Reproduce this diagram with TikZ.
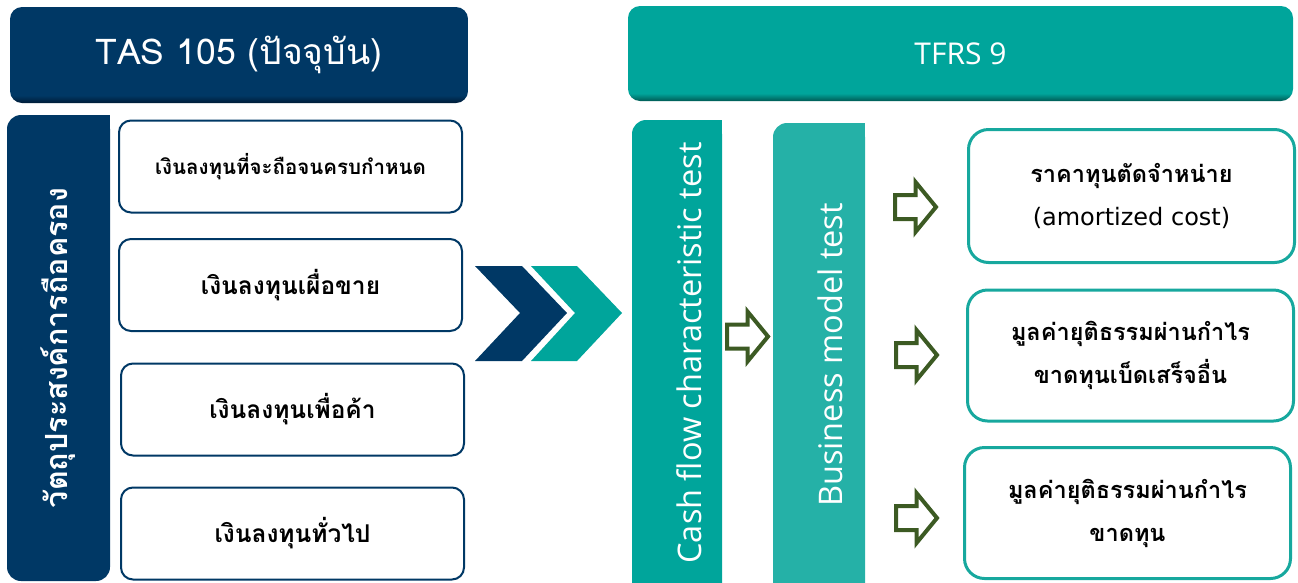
\documentclass[tikz,border=0pt]{standalone}
\usepackage{fontspec}
\newfontfamily\thai[Script=Thai]{Loma}
\newfontfamily\lat{Open Sans}
\newfontfamily\dv{DejaVu Sans}
\definecolor{navy}{RGB}{0,56,101}
\definecolor{navyD}{RGB}{0,28,55}
\definecolor{teal}{RGB}{0,165,155}
\definecolor{tealD}{RGB}{0,90,84}
\definecolor{tealL}{RGB}{37,177,167}
\definecolor{tealB}{RGB}{23,168,158}
\definecolor{arrowgreen}{RGB}{60,90,35}
\pgfdeclareverticalshading{navybevel}{100bp}{color(0bp)=(navyD); color(25bp)=(navyD); color(29bp)=(navy); color(100bp)=(navy)}
\pgfdeclareverticalshading{tealbevel}{100bp}{color(0bp)=(tealD); color(25bp)=(tealD); color(29bp)=(teal); color(100bp)=(teal)}
\begin{document}
\begin{tikzpicture}[x=1pt,y=-1pt,
  hdr/.style={rounded corners=12, inner sep=0, shade, text=white},
  lbox/.style={draw=navy, line width=2, fill=white, rounded corners=12, minimum width=343, minimum height=92, inner sep=0, font=\thai\bfseries\fontsize{24.5}{30}\selectfont},
  rbox/.style={draw=tealB, line width=3, fill=white, rounded corners=20, minimum width=326, minimum height=131, inner sep=0, align=center, font=\thai\bfseries\fontsize{23.5}{43}\selectfont},
  bar/.style={rounded corners=14, inner sep=0},
  vtext/.style={rotate=90, text=white, inner sep=0},
  garrow/.pic={\draw[arrowgreen, line width=4, fill=white, line join=miter] (-20.5,-12) -- (0,-12) -- (0,-25) -- (20.5,0) -- (0,25) -- (0,12) -- (-20.5,12) -- cycle;}
]
\useasboundingbox (0,0) rectangle (1298,582);
% headers
\node[hdr, shading=navybevel, minimum width=458, minimum height=96, font=\thai\fontsize{35.5}{40}\selectfont] (tas) at (239,55) {TAS 105 (ปัจจุบัน)};
\node[hdr, shading=tealbevel, minimum width=665, minimum height=95, font=\lat\fontsize{30}{36}\selectfont] (tfrs) at (960.5,53.5) {TFRS 9};
% left purpose bar
\node[bar, fill=navy, minimum width=103, minimum height=466] (purpose) at (58.5,348) {};
\fill[navy] (90,115) rectangle (110,140);
\node[vtext, font=\thai\bfseries\fontsize{30.5}{34}\selectfont] (purposetxt) at (purpose.center) {วัตถุประสงค์การถือครอง};
% left boxes
\node[lbox, font=\thai\bfseries\fontsize{20.5}{24}\selectfont] (b1) at (290.5,166.5) {เงินลงทุนที่จะถือจนครบกำหนด};
\node[lbox] (b2) at (290.5,285) {เงินลงทุนเผื่อขาย};
\node[lbox] (b3) at (292.5,409.5) {เงินลงทุนเพื่อค้า};
\node[lbox] (b4) at (292.5,533.5) {เงินลงทุนทั่วไป};
% chevrons
\fill[navy] (475,266) -- (522,266) -- (567,313) -- (522,361) -- (475,361) -- (520,313) -- cycle;
\fill[teal] (531,266) -- (577,266) -- (622,313) -- (577,361) -- (531,361) -- (575,313) -- cycle;
% test bars
\node[bar, fill=teal, minimum width=90, minimum height=480] (cash) at (677,360) {};
\fill[teal] (700,120) rectangle (722,145);
\node[vtext, font=\lat\fontsize{32.5}{36}\selectfont] (cashtxt) at (689,353) {Cash flow characteristic test};
\node[bar, fill=tealL, minimum width=92, minimum height=480] (biz) at (819,363) {};
\fill[tealL] (840,123) rectangle (865,148);
\node[vtext, font=\lat\fontsize{32.5}{36}\selectfont] (biztxt) at (830,355) {Business model test};
% green arrows
\pic at (747.5,336.5) {garrow};
\pic at (915.5,207) {garrow};
\pic at (916.5,355) {garrow};
\pic at (916.5,518) {garrow};
% right boxes
\node[rbox, minimum height=133] (r1) at (1131.5,196) {ราคาทุนตัดจำหน่าย\\{\dv\mdseries\fontsize{24}{43}\selectfont (amortized cost)}};
\node[rbox] (r2) at (1130.5,355.5) {มูลค่ายุติธรรมผ่านกำไร\\ขาดทุนเบ็ดเสร็จอื่น};
\node[rbox] (r3) at (1127.5,513) {มูลค่ายุติธรรมผ่านกำไร\\ขาดทุน};
\end{tikzpicture}
\end{document}
